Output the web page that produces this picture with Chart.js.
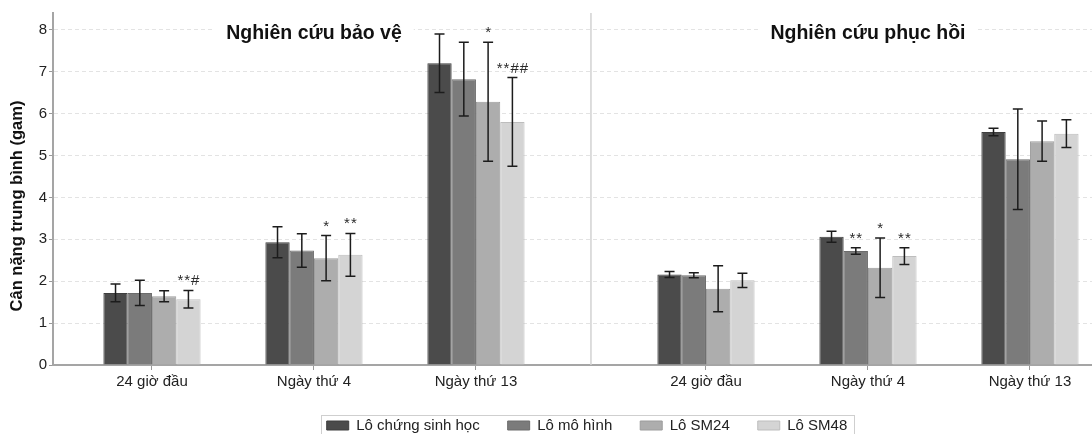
<!DOCTYPE html>
<html><head><meta charset="utf-8">
<script src="https://cdn.jsdelivr.net/npm/chart.js@4.4.1/dist/chart.umd.min.js"></script>
<style>html,body{margin:0;padding:0;background:#fff;overflow:hidden}canvas{display:block}</style>
</head><body>
<canvas id="c" width="1092" height="434"></canvas>
<script>
// ---- data ----
const categories = ['24 giờ đầu', 'Ngày thứ 4', 'Ngày thứ 13', '24 giờ đầu', 'Ngày thứ 4', 'Ngày thứ 13'];
const groupX = [0, 1, 2, 3.42, 4.42, 5.42];
const panelTitles = ['Nghiên cứu bảo vệ', 'Nghiên cứu phục hồi'];
const yAxisTitle = 'Cân nặng trung bình (gam)';
const yTicks = [0, 1, 2, 3, 4, 5, 6, 7, 8];
const seriesNames = ['Lô chứng sinh học', 'Lô mô hình', 'Lô SM24', 'Lô SM48'];

const controlMean = [1.72, 2.93, 7.20, 2.16, 3.06, 5.56];
const controlErr  = [0.21, 0.37, 0.70, 0.07, 0.13, 0.09];
const controlMark = ['', '', '', '', '', ''];

const modelMean = [1.72, 2.73, 6.82, 2.14, 2.72, 4.91];
const modelErr  = [0.30, 0.40, 0.88, 0.06, 0.08, 1.20];
const modelMark = ['', '', '', '', '**', ''];

const sm24Mean = [1.64, 2.55, 6.28, 1.82, 2.32, 5.34];
const sm24Err  = [0.13, 0.54, 1.42, 0.55, 0.71, 0.48];
const sm24Mark = ['', '*', '*', '', '*', ''];

const sm48Mean = [1.57, 2.63, 5.80, 2.02, 2.60, 5.52];
const sm48Err  = [0.21, 0.51, 1.06, 0.17, 0.20, 0.33];
const sm48Mark = ['**#', '**', '**##', '', '**', ''];

const fillColors = ['#4b4b4b', '#7b7b7b', '#adadad', '#d4d4d4'];
const edgeColors = ['#3e3e3e', '#6c6c6c', '#9c9c9c', '#bdbdbd'];

const means = [controlMean, modelMean, sm24Mean, sm48Mean];
const errs = [controlErr, modelErr, sm24Err, sm48Err];
const marks = [controlMark, modelMark, sm24Mark, sm48Mark];

const FONT = "'Liberation Sans', Arial, Helvetica, sans-serif";
Chart.defaults.font.family = FONT;
Chart.defaults.color = '#222';

const datasets = seriesNames.map((name, i) => ({
  label: name,
  data: means[i].map((v, j) => ({ x: groupX[j], y: v })),
  backgroundColor: fillColors[i],
  borderColor: edgeColors[i],
  borderWidth: 1,
  barPercentage: 1,
  categoryPercentage: 0.6
}));

const separatorPlugin = {
  id: 'separator',
  beforeDatasetsDraw(chart) {
    const { ctx, chartArea, scales: { x } } = chart;
    const px = x.getPixelForValue((groupX[2] + groupX[3]) / 2);
    ctx.save();
    ctx.strokeStyle = '#d2d2d2';
    ctx.lineWidth = 1.5;
    ctx.beginPath();
    ctx.moveTo(px, chartArea.top);
    ctx.lineTo(px, chartArea.bottom);
    ctx.stroke();
    ctx.restore();
  }
};

const errorBarPlugin = {
  id: 'errorBars',
  afterDatasetsDraw(chart) {
    const { ctx, scales: { x, y } } = chart;
    ctx.save();
    // panel titles with white backing
    ctx.font = 'bold 19.5px ' + FONT;
    panelTitles.forEach((t, k) => {
      const cx = x.getPixelForValue(groupX[1 + 3 * k]);
      const cy = y.getPixelForValue(yTicks[yTicks.length - 1]);
      const w = ctx.measureText(t).width;
      ctx.fillStyle = '#fff';
      ctx.fillRect(cx - w / 2 - 12, cy - 13, w + 24, 26);
      ctx.fillStyle = '#111';
      ctx.textAlign = 'center';
      ctx.textBaseline = 'alphabetic';
      ctx.fillText(t, cx, cy + 9.5);
    });
    // error bars + significance marks
    chart.data.datasets.forEach((ds, i) => {
      const meta = chart.getDatasetMeta(i);
      meta.data.forEach((bar, j) => {
        const m = means[i][j], e = errs[i][j];
        const top = y.getPixelForValue(m + e);
        const bot = y.getPixelForValue(m - e);
        ctx.strokeStyle = '#1c1c1c';
        ctx.lineWidth = 1.5;
        ctx.beginPath();
        ctx.moveTo(bar.x, top); ctx.lineTo(bar.x, bot);
        ctx.moveTo(bar.x - 5, top); ctx.lineTo(bar.x + 5, top);
        ctx.moveTo(bar.x - 5, bot); ctx.lineTo(bar.x + 5, bot);
        ctx.stroke();
        const mk = marks[i][j];
        if (mk) {
          ctx.fillStyle = '#2a2a2a';
          ctx.font = '15px ' + FONT;
          ctx.letterSpacing = '1px';
          ctx.textAlign = 'center';
          ctx.textBaseline = 'alphabetic';
          ctx.fillText(mk, bar.x + 0.5, top - 5);
          ctx.letterSpacing = '0px';
        }
      });
    });
    // y axis title
    ctx.translate(17.5, 206);
    ctx.rotate(-Math.PI / 2);
    ctx.font = 'bold 16.5px ' + FONT;
    ctx.fillStyle = '#111';
    ctx.textAlign = 'center';
    ctx.textBaseline = 'middle';
    ctx.fillText(yAxisTitle, 0, 0);
    ctx.restore();
  }
};

const LEG_DX = 41, LEG_DY = -5, LEG_PAD = 28;
const legendPlugin = {
  id: 'legendTweak',
  afterLayout(chart) {
    const l = chart.legend;
    l.left += LEG_DX; l.right += LEG_DX; l.top += LEG_DY; l.bottom += LEG_DY;
  },
  afterDraw(chart) {
    const l = chart.legend, ctx = chart.ctx;
    const lw = l.lineWidths[0];
    const start = (l.left + LEG_PAD + l.right - lw) / 2;
    const end = start + lw - LEG_PAD;
    ctx.save();
    ctx.strokeStyle = '#cfcfcf';
    ctx.lineWidth = 1;
    ctx.strokeRect(Math.round(start - 6) + 0.5, 415.5, Math.round(end - start + 12), 40);
    ctx.restore();
  }
};

new Chart(document.getElementById('c'), {
  type: 'bar',
  data: { datasets },
  options: {
    responsive: false,
    animation: false,
    devicePixelRatio: 1,
    layout: { padding: { top: 13, left: 0, right: 0, bottom: -14 } },
    scales: {
      x: {
        type: 'linear',
        offset: false,
        min: -0.611,
        max: 5.803,
        afterBuildTicks: s => { s.ticks = groupX.map(v => ({ value: v })); },
        afterFit: s => { s.height = 30; },
        ticks: {
          callback: (v, i) => categories[i],
          autoSkip: false, maxRotation: 0, minRotation: 0,
          padding: 3, color: '#222', font: { size: 15 }
        },
        grid: { offset: false, drawOnChartArea: false, drawTicks: true, tickLength: 5, tickColor: '#999', color: '#999' },
        border: { color: '#a5a5a5', width: 2 }
      },
      y: {
        min: 0,
        max: 8.4,
        afterBuildTicks: s => { s.ticks = yTicks.map(v => ({ value: v })); },
        afterFit: s => { s.width = 53; },
        ticks: { color: '#222', font: { size: 15 }, padding: 2 },
        grid: { color: '#e3e3e3', tickColor: '#999', tickLength: 4 },
        border: { color: '#a5a5a5', width: 2, dash: [4, 3] }
      }
    },
    plugins: {
      legend: {
        position: 'bottom',
        labels: { boxWidth: 22, boxHeight: 9, padding: LEG_PAD, color: '#222', font: { size: 15 } }
      },
      tooltip: { enabled: false }
    }
  },
  plugins: [separatorPlugin, errorBarPlugin, legendPlugin]
});
</script>
</body></html>
